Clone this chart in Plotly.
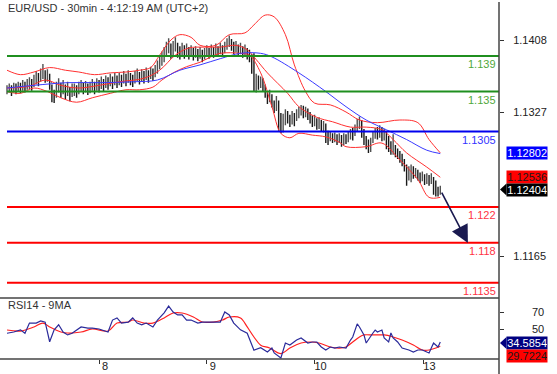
import plotly.graph_objects as go

# ---------------- data ----------------
closes = [
    1.1352, 1.1354, 1.1351, 1.1355, 1.1353, 1.1356, 1.1354, 1.1357, 1.1355, 1.1358,
    1.1360, 1.1357, 1.1362, 1.1366, 1.1363, 1.1368, 1.1372, 1.1366, 1.1369, 1.1360,
    1.1347, 1.1344, 1.1353, 1.1358, 1.1351, 1.1356, 1.1349, 1.1354, 1.1347, 1.1352,
    1.1352, 1.1349, 1.1354, 1.1357, 1.1353, 1.1356, 1.1352, 1.1355, 1.1358, 1.1354,
    1.1358, 1.1356, 1.1360, 1.1357, 1.1361, 1.1359, 1.1363, 1.1360, 1.1364, 1.1361,
    1.1364, 1.1362, 1.1366, 1.1363, 1.1367, 1.1364, 1.1362, 1.1366, 1.1369, 1.1365,
    1.1368, 1.1366, 1.1370, 1.1367, 1.1371, 1.1369, 1.1374, 1.1378, 1.1383, 1.1387,
    1.1392, 1.1398, 1.1402, 1.1396, 1.1400, 1.1404, 1.1397, 1.1394, 1.1399, 1.1395,
    1.1398, 1.1393, 1.1396, 1.1392, 1.1395, 1.1391, 1.1394, 1.1390, 1.1393, 1.1396,
    1.1393, 1.1397, 1.1394, 1.1398, 1.1395, 1.1399, 1.1396, 1.1400, 1.1404, 1.1407,
    1.1403, 1.1399, 1.1401, 1.1397, 1.1399, 1.1395, 1.1397, 1.1393, 1.1390, 1.1375,
    1.1355, 1.1362, 1.1358, 1.1362, 1.1356, 1.1348, 1.1342, 1.1345, 1.1338, 1.1332,
    1.1336, 1.1322, 1.1312, 1.1318, 1.1326, 1.1321, 1.1316, 1.1322, 1.1318, 1.1324,
    1.1328, 1.1330, 1.1326, 1.1329, 1.1324, 1.1320, 1.1316, 1.1318, 1.1313, 1.1315,
    1.1310, 1.1312, 1.1304, 1.1298, 1.1300, 1.1297, 1.1299, 1.1296, 1.1298, 1.1295,
    1.1298, 1.1296, 1.1300, 1.1303, 1.1301, 1.1308, 1.1314, 1.1316, 1.1306, 1.1297,
    1.1292, 1.1288, 1.1294, 1.1300, 1.1304, 1.1302, 1.1306, 1.1300, 1.1303, 1.1296,
    1.1290, 1.1285, 1.1288, 1.1282, 1.1280, 1.1276, 1.1272, 1.1266, 1.1256, 1.1260,
    1.1262, 1.1258, 1.1260, 1.1256, 1.1253, 1.1255, 1.1251, 1.1253, 1.1250, 1.1252,
    1.1244, 1.1238, 1.1236, 1.12404,
]
highs = [
    1.1357, 1.1359, 1.1357, 1.1360, 1.1359, 1.1361, 1.1360, 1.1363, 1.1361, 1.1364,
    1.1366, 1.1364, 1.1369, 1.1373, 1.1371, 1.1376, 1.1381, 1.1374, 1.1375, 1.1370,
    1.1358, 1.1352, 1.1361, 1.1365, 1.1360, 1.1363, 1.1358, 1.1361, 1.1355, 1.1359,
    1.1359, 1.1357, 1.1361, 1.1363, 1.1360, 1.1362, 1.1359, 1.1361, 1.1364, 1.1361,
    1.1365, 1.1363, 1.1367, 1.1364, 1.1368, 1.1366, 1.1370, 1.1367, 1.1371, 1.1368,
    1.1371, 1.1369, 1.1373, 1.1370, 1.1374, 1.1371, 1.1369, 1.1373, 1.1376, 1.1372,
    1.1375, 1.1373, 1.1377, 1.1374, 1.1378, 1.1376, 1.1380, 1.1385, 1.1390, 1.1395,
    1.1400, 1.1406, 1.1410, 1.1404, 1.1407, 1.1411, 1.1405, 1.1401, 1.1405, 1.1402,
    1.1404, 1.1400, 1.1402, 1.1399, 1.1401, 1.1398, 1.1400, 1.1397, 1.1399, 1.1402,
    1.1399, 1.1403, 1.1400, 1.1404, 1.1401, 1.1405, 1.1402, 1.1406, 1.1410, 1.1413,
    1.1409, 1.1406, 1.1407, 1.1403, 1.1405, 1.1401, 1.1403, 1.1399, 1.1397, 1.1392,
    1.1393, 1.1370, 1.1368, 1.1367, 1.1365, 1.1358, 1.1350, 1.1352, 1.1347, 1.1340,
    1.1345, 1.1340, 1.1326, 1.1325, 1.1330, 1.1328, 1.1324, 1.1328, 1.1326, 1.1330,
    1.1333, 1.1335, 1.1334, 1.1333, 1.1331, 1.1327, 1.1323, 1.1324, 1.1320, 1.1321,
    1.1318, 1.1317, 1.1314, 1.1306, 1.1305, 1.1303, 1.1304, 1.1302, 1.1303, 1.1301,
    1.1303, 1.1302, 1.1305, 1.1308, 1.1309, 1.1313, 1.1319, 1.1322, 1.1318, 1.1308,
    1.1300, 1.1296, 1.1298, 1.1305, 1.1309, 1.1310, 1.1312, 1.1310, 1.1308, 1.1305,
    1.1300, 1.1294, 1.1302, 1.1290, 1.1286, 1.1283, 1.1280, 1.1274, 1.1268, 1.1266,
    1.1268, 1.1266, 1.1264, 1.1262, 1.1259, 1.1260, 1.1257, 1.1258, 1.1256, 1.1258,
    1.1254, 1.1250, 1.1243, 1.1244,
]
lows = [
    1.1347, 1.1349, 1.1345, 1.1349, 1.1347, 1.1350, 1.1348, 1.1351, 1.1349, 1.1352,
    1.1353, 1.1351, 1.1355, 1.1358, 1.1356, 1.1361, 1.1364, 1.1360, 1.1361, 1.1352,
    1.1338, 1.1337, 1.1343, 1.1349, 1.1343, 1.1347, 1.1341, 1.1345, 1.1339, 1.1344,
    1.1345, 1.1343, 1.1347, 1.1350, 1.1347, 1.1349, 1.1346, 1.1348, 1.1351, 1.1347,
    1.1351, 1.1349, 1.1353, 1.1350, 1.1354, 1.1352, 1.1356, 1.1353, 1.1357, 1.1354,
    1.1357, 1.1355, 1.1359, 1.1356, 1.1360, 1.1357, 1.1355, 1.1359, 1.1362, 1.1358,
    1.1361, 1.1359, 1.1363, 1.1360, 1.1364, 1.1362, 1.1366, 1.1370, 1.1375, 1.1379,
    1.1383, 1.1389, 1.1393, 1.1387, 1.1391, 1.1395, 1.1388, 1.1386, 1.1390, 1.1387,
    1.1391, 1.1386, 1.1389, 1.1385, 1.1388, 1.1384, 1.1387, 1.1383, 1.1386, 1.1389,
    1.1387, 1.1390, 1.1388, 1.1391, 1.1389, 1.1392, 1.1389, 1.1393, 1.1397, 1.1400,
    1.1396, 1.1392, 1.1394, 1.1390, 1.1392, 1.1388, 1.1390, 1.1386, 1.1383, 1.1370,
    1.1350, 1.1349, 1.1352, 1.1354, 1.1350, 1.1343, 1.1336, 1.1338, 1.1332, 1.1326,
    1.1328, 1.1306, 1.1303, 1.1304, 1.1312, 1.1314, 1.1310, 1.1313, 1.1311, 1.1317,
    1.1320, 1.1323, 1.1320, 1.1321, 1.1318, 1.1314, 1.1310, 1.1311, 1.1307, 1.1308,
    1.1305, 1.1304, 1.1292, 1.1290, 1.1294, 1.1292, 1.1293, 1.1290, 1.1292, 1.1288,
    1.1290, 1.1291, 1.1293, 1.1296, 1.1295, 1.1300, 1.1305, 1.1308, 1.1298, 1.1290,
    1.1285, 1.1281, 1.1282, 1.1292, 1.1297, 1.1296, 1.1298, 1.1294, 1.1295, 1.1285,
    1.1282, 1.1279, 1.1279, 1.1276, 1.1274, 1.1270, 1.1266, 1.1260, 1.1244, 1.1250,
    1.1248, 1.1252, 1.1253, 1.1250, 1.1247, 1.1249, 1.1245, 1.1246, 1.1244, 1.1246,
    1.1234, 1.1232, 1.1232, 1.1234,
]
first_open = 1.1350

# Bollinger bands (upper / middle / lower), blue moving average: (bar index, price)
bb_up_x = [0, 6, 12, 19, 26, 32, 39, 46, 53, 59, 64, 68, 73, 77, 82, 86, 93, 99, 106, 110,
           115, 119, 124, 128, 133, 137, 144, 151, 157, 165, 175, 183, 188, 193]
bb_up_y = [1.1374, 1.1369, 1.1372, 1.1377, 1.1374, 1.1372, 1.1369, 1.1371, 1.1372, 1.1374,
           1.1377, 1.1391, 1.1408, 1.1414, 1.1411, 1.1402, 1.1402, 1.1414, 1.1416, 1.1425,
           1.1436, 1.1434, 1.1414, 1.1380, 1.1350, 1.1337, 1.1335, 1.1327, 1.1318, 1.1315,
           1.1318, 1.1315, 1.1296, 1.1281]
bb_mid_x = [0, 10, 17, 24, 32, 41, 50, 61, 68, 75, 81, 88, 95, 102, 107, 111, 116, 125,
            130, 138, 145, 153, 160, 167, 172, 178, 187, 193]
bb_mid_y = [1.1354, 1.1356, 1.1363, 1.1357, 1.1354, 1.1357, 1.1361, 1.1365, 1.1374, 1.1391,
            1.1399, 1.1400, 1.1400, 1.1402, 1.1397, 1.1386, 1.1371, 1.1348, 1.1333, 1.1321,
            1.1316, 1.1310, 1.1310, 1.1307, 1.1296, 1.1281, 1.1265, 1.12536]
bb_low_x = [0, 6, 12, 18, 24, 31, 38, 46, 53, 59, 65, 69, 74, 80, 86, 90, 95, 104, 108,
            113, 118, 122, 126, 130, 136, 142, 148, 151, 160, 167, 175, 183, 188, 193]
bb_low_y = [1.1350, 1.1348, 1.1354, 1.1350, 1.1343, 1.1338, 1.1343, 1.1348, 1.1352, 1.1352,
            1.1355, 1.1363, 1.1371, 1.1378, 1.1383, 1.1388, 1.1393, 1.1393, 1.1391, 1.1371,
            1.1333, 1.1303, 1.1298, 1.1303, 1.1301, 1.1299, 1.1293, 1.1288, 1.1288, 1.1292,
            1.1273, 1.1251, 1.1231, 1.1231]
ma_x = [0, 12, 27, 41, 56, 67, 77, 86, 95, 104, 113, 118, 130, 142, 151, 160, 169, 178, 187, 193]
ma_y = [1.1354, 1.1357, 1.1360, 1.1360, 1.1361, 1.1363, 1.1374, 1.1380, 1.1387, 1.1393,
        1.1393, 1.1389, 1.1371, 1.1350, 1.1333, 1.1318, 1.1307, 1.1296, 1.1284, 1.12802]

# RSI(14) and its 9-period MA: (bar index, value)
rsi_x = [0, 3, 6, 8, 10, 13, 15, 17, 19, 21, 23, 25, 27, 29, 33, 36, 38, 41, 45, 47,
         49, 51, 54, 56, 58, 60, 62, 65, 67, 70, 72, 74, 76, 78, 80, 82, 85, 87, 90, 92,
         95, 97, 99, 101, 104, 107, 110, 113, 116, 118, 119, 122, 124, 126, 129, 131, 134, 136, 138, 140,
         142, 144, 146, 148, 151, 153, 154, 156, 157, 159, 160, 163, 164, 165, 167, 168, 170, 171, 172, 174,
         176, 179, 181, 183, 185, 187, 188, 190, 192, 193]
rsi_v = [45, 46.5, 49, 45, 57, 57, 59.5, 58, 35, 49, 55, 46.5, 43, 45, 52.4, 51, 51, 50, 46.5, 60.5,
         63, 57, 58, 63, 57, 55, 57, 52.4, 60.5, 69, 77, 70, 66.5, 66.5, 60.5, 60.5, 57, 58, 58, 58,
         58, 70, 66.5, 57, 49, 45, 25, 28, 23, 27.6, 21.8, 15.9, 33.5, 31.2, 37, 39.4, 33.5, 34.7, 34.7, 28.8,
         25.3, 28.8, 27.6, 28.8, 27.6, 37, 40.6, 56, 52.4, 43, 33.5, 45.3, 48.8, 46.5, 48.8, 39.4, 34.7, 45.3, 39.4, 34.7,
         27.6, 25.3, 22.9, 25.3, 25.3, 22.9, 21.8, 33.5, 28.8, 34.5854]
rsi_ma_x = [0, 6, 12, 16, 19, 24, 27, 33, 38, 45, 49, 54, 56, 61, 65, 70, 74, 78, 83, 87,
            92, 96, 99, 104, 107, 110, 113, 117, 122, 126, 131, 135, 139, 144, 148, 151, 154, 157, 159, 163,
            168, 172, 176, 181, 185, 188, 193]
rsi_ma_v = [48.8, 47.6, 52.4, 57, 52.4, 46.5, 45.3, 46.5, 50, 47.6, 57, 58.2, 60.6, 57, 57, 63, 68.8, 68.8, 64.1, 58.2,
            58.2, 60.6, 64.1, 63, 52.4, 40.6, 31, 27.6, 21, 27.6, 33.5, 34.7, 33.5, 28.8, 27.6, 28.8, 34.7, 40.6, 43, 43,
            43, 40.6, 37.1, 31.2, 25.3, 25.3, 29.7224]

levels = [1.139, 1.135, 1.1305, 1.122, 1.118, 1.1135]
level_labels = ["1.139", "1.135", "1.1305", "1.122", "1.118", "1.1135"]
level_line_colors = ["#1f8f1f", "#1f8f1f", "#0000ee", "#ff0000", "#ff0000", "#ff0000"]
level_text_colors = ["#4fa83a", "#4fa83a", "#3333ff", "#ff3344", "#ff3344", "#ff3344"]

price_ticks = [1.1408, 1.1327, 1.1165]
rsi_ticks = [70, 50]
day_ticks = [41, 89, 137, 185.5]
day_labels = ["8", "9", "10", "13"]

arrow_from = (193.3, 1.12381)
arrow_to = (205.3, 1.11796)

title_text = "EUR/USD - 30min - 4:12:19 AM (UTC+2)"
rsi_title = "RSI14 - 9MA"

# ---------------- figure ----------------
W, H = 557, 374
PW, PH = 499, 359          # plot area in px
FONT = "Arial, Liberation Sans, sans-serif"
rsi_top = (PH - 298) / PH

n = len(closes)
xs = list(range(n))
opens = [first_open] + closes[:-1]

fig = go.Figure()
fig.add_trace(go.Ohlc(x=xs, open=opens, high=highs, low=lows, close=closes,
                      increasing=dict(line=dict(color="#505050", width=1.4)),
                      decreasing=dict(line=dict(color="#1a1a1a", width=1.4)),
                      tickwidth=0.25, xaxis="x", yaxis="y", showlegend=False))
for bx, by in [(bb_up_x, bb_up_y), (bb_mid_x, bb_mid_y), (bb_low_x, bb_low_y)]:
    fig.add_trace(go.Scatter(x=bx, y=by, mode="lines", line=dict(color="#ff3030", width=1),
                             line_shape="spline", xaxis="x", yaxis="y", showlegend=False))
fig.add_trace(go.Scatter(x=ma_x, y=ma_y, mode="lines", line=dict(color="#3a3aff", width=1),
                         line_shape="spline", xaxis="x", yaxis="y", showlegend=False))
fig.add_trace(go.Scatter(x=rsi_ma_x, y=rsi_ma_v, mode="lines", line=dict(color="#ff2020", width=1.2),
                         line_shape="spline", xaxis="x2", yaxis="y2", showlegend=False))
fig.add_trace(go.Scatter(x=rsi_x, y=rsi_v, mode="lines", line=dict(color="#2a2a9a", width=1.2),
                         xaxis="x2", yaxis="y2", showlegend=False))

shapes = []
annotations = []

def px_x(p):
    return p / PW

def px_y(p):
    return (PH - p) / PH

for lv, lab, lc, tc in zip(levels, level_labels, level_line_colors, level_text_colors):
    shapes.append(dict(type="line", xref="x", yref="y", x0=0, x1=219.2, y0=lv, y1=lv,
                       line=dict(color=lc, width=2)))
    annotations.append(dict(text=lab, xref="paper", yref="y", x=px_x(498), y=lv,
                            xanchor="right", yanchor="top", showarrow=False, yshift=0,
                            font=dict(family=FONT, size=11, color=tc)))

# panel separators and right axis line
shapes.append(dict(type="line", xref="paper", yref="paper", x0=0, x1=1, y0=rsi_top, y1=rsi_top,
                   line=dict(color="#444", width=1.5)))
shapes.append(dict(type="line", xref="paper", yref="paper", x0=0, x1=1, y0=0, y1=0,
                   line=dict(color="#444", width=1.5)))
shapes.append(dict(type="line", xref="paper", yref="paper", x0=1, x1=1, y0=px_y(374), y1=px_y(2),
                   line=dict(color="#444", width=1.5)))

# right-side value boxes
def value_box(text, yc, bg, fg, pointer):
    annotations.append(dict(text=text, xref="paper", yref="paper", x=px_x(506), y=px_y(yc),
                            xanchor="left", yanchor="middle", showarrow=False,
                            bgcolor=bg, borderpad=0, width=40, height=12, align="right",
                            font=dict(family=FONT, size=11, color=fg)))
    if pointer:
        path = "M {} {} L {} {} L {} {} Z".format(px_x(500), px_y(yc), px_x(506.5), px_y(yc - 6),
                                                 px_x(506.5), px_y(yc + 6))
        shapes.append(dict(type="path", xref="paper", yref="paper", path=path,
                           fillcolor=bg, line=dict(width=0)))

value_box("1.12802", 152.5, "#0000ff", "white", False)
value_box("1.12536", 176.5, "#ff0000", "#1a1a1a", False)
value_box("1.12404", 189.5, "#000000", "white", True)
value_box("34.5854", 343, "#000080", "white", True)
value_box("29.7224", 356, "#ff0000", "#1a1a1a", False)

# RSI tick labels (right-aligned)
for v in rsi_ticks:
    annotations.append(dict(text=str(v), xref="paper", yref="y2", x=px_x(546), y=v,
                            xanchor="right", yanchor="middle", showarrow=False,
                            font=dict(family=FONT, size=11, color="#222")))

# titles
annotations.append(dict(text=title_text, xref="paper", yref="paper", x=px_x(6), y=px_y(8),
                        xanchor="left", yanchor="middle", showarrow=False,
                        font=dict(family=FONT, size=11, color="#333")))
annotations.append(dict(text=rsi_title, xref="paper", yref="paper", x=px_x(6), y=px_y(305),
                        xanchor="left", yanchor="middle", showarrow=False,
                        font=dict(family=FONT, size=11, color="#333")))

# forecast arrow
annotations.append(dict(x=arrow_to[0], y=arrow_to[1], ax=arrow_from[0], ay=arrow_from[1],
                        xref="x", yref="y", axref="x", ayref="y", text="", showarrow=True,
                        arrowhead=2, arrowsize=2.2, arrowwidth=1.6, arrowcolor="#1a1a50"))

xrange = [-7 / 2.245, (PW - 7) / 2.245]
fig.update_layout(
    width=W, height=H, margin=dict(l=0, r=W - PW, t=0, b=H - PH, autoexpand=False),
    paper_bgcolor="white", plot_bgcolor="white",
    shapes=shapes, annotations=annotations,
    xaxis=dict(domain=[0, 1], anchor="y", range=xrange, showticklabels=False,
               showgrid=False, zeroline=False, automargin=False,
               rangeslider=dict(visible=False)),
    xaxis2=dict(domain=[0, 1], anchor="y2", range=xrange, matches="x", showgrid=False,
                zeroline=False, automargin=False, tickvals=day_ticks, ticktext=day_labels,
                ticks="outside", ticklen=4, tickcolor="#333", ticklabelshift=6,
                ticklabelstandoff=-7,
                tickfont=dict(family=FONT, size=11, color="#222")),
    yaxis=dict(domain=[rsi_top, 1], anchor="x", side="right", automargin=False,
               range=[1.1408 - 258 / 8889, 1.1408 + 40 / 8889],
               tickvals=price_ticks, tickformat=".4f", ticks="outside", ticklen=4,
               tickcolor="#333", ticklabelstandoff=7, showgrid=False, zeroline=False,
               tickfont=dict(family=FONT, size=11, color="#222")),
    yaxis2=dict(domain=[0, rsi_top], anchor="x2", side="right", automargin=False,
                range=[50 - 30 / 0.85, 50 + 31 / 0.85], tickvals=rsi_ticks,
                showticklabels=False, ticks="outside", ticklen=4, tickcolor="#333",
                showgrid=False, zeroline=False),
)

fig.write_html("out.html")
